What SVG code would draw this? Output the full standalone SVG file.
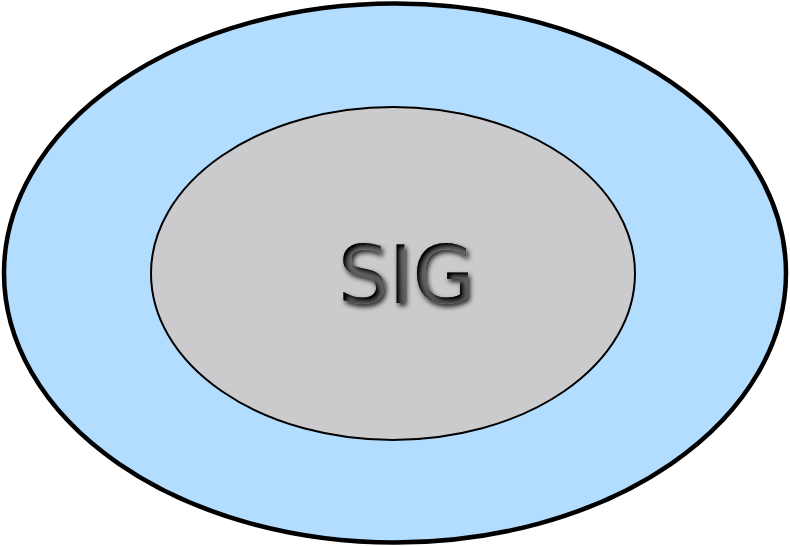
<svg xmlns="http://www.w3.org/2000/svg" width="790" height="546" viewBox="0 0 790 546">
<defs>
<filter id="emboss" x="-20%" y="-30%" width="140%" height="160%">
<feGaussianBlur in="SourceAlpha" stdDeviation="2.5" result="b1"/>
<feOffset in="b1" dx="2" dy="3" result="o1"/>
<feFlood flood-color="#000" flood-opacity="0.85"/>
<feComposite in2="o1" operator="in" result="shadow"/>
<feGaussianBlur in="SourceAlpha" stdDeviation="2.5" result="b2"/>
<feOffset in="b2" dx="3" dy="2.5" result="o2"/>
<feComposite in="SourceAlpha" in2="o2" operator="arithmetic" k2="1" k3="-1" result="edge"/>
<feFlood flood-color="#000" flood-opacity="1"/>
<feComposite in2="edge" operator="in" result="inner"/>
<feMerge><feMergeNode in="shadow"/><feMergeNode in="SourceGraphic"/><feMergeNode in="inner"/><feMergeNode in="inner"/></feMerge>
</filter>
<linearGradient id="tg" x1="0" y1="0" x2="0" y2="1">
<stop offset="0" stop-color="#7a7a7a"/>
<stop offset="1" stop-color="#5a5a5a"/>
</linearGradient>
</defs>
<style>
.outer{fill:#b3ddfe;stroke:#000;stroke-width:4.5}
.inner{fill:#cbcbcd;stroke:#000;stroke-width:2}
.lbl{font-family:"DejaVu Sans",sans-serif;font-size:80px;fill:url(#tg);filter:url(#emboss)}
</style>
<g id="outer-node"><ellipse class="outer" cx="395" cy="273" rx="391" ry="269.5"/></g>
<g id="inner-node"><ellipse class="inner" cx="393" cy="273.5" rx="242" ry="166.5"/>
<text class="lbl" x="338" y="303">SIG</text></g>
<g id="connectors"/>
</svg>
